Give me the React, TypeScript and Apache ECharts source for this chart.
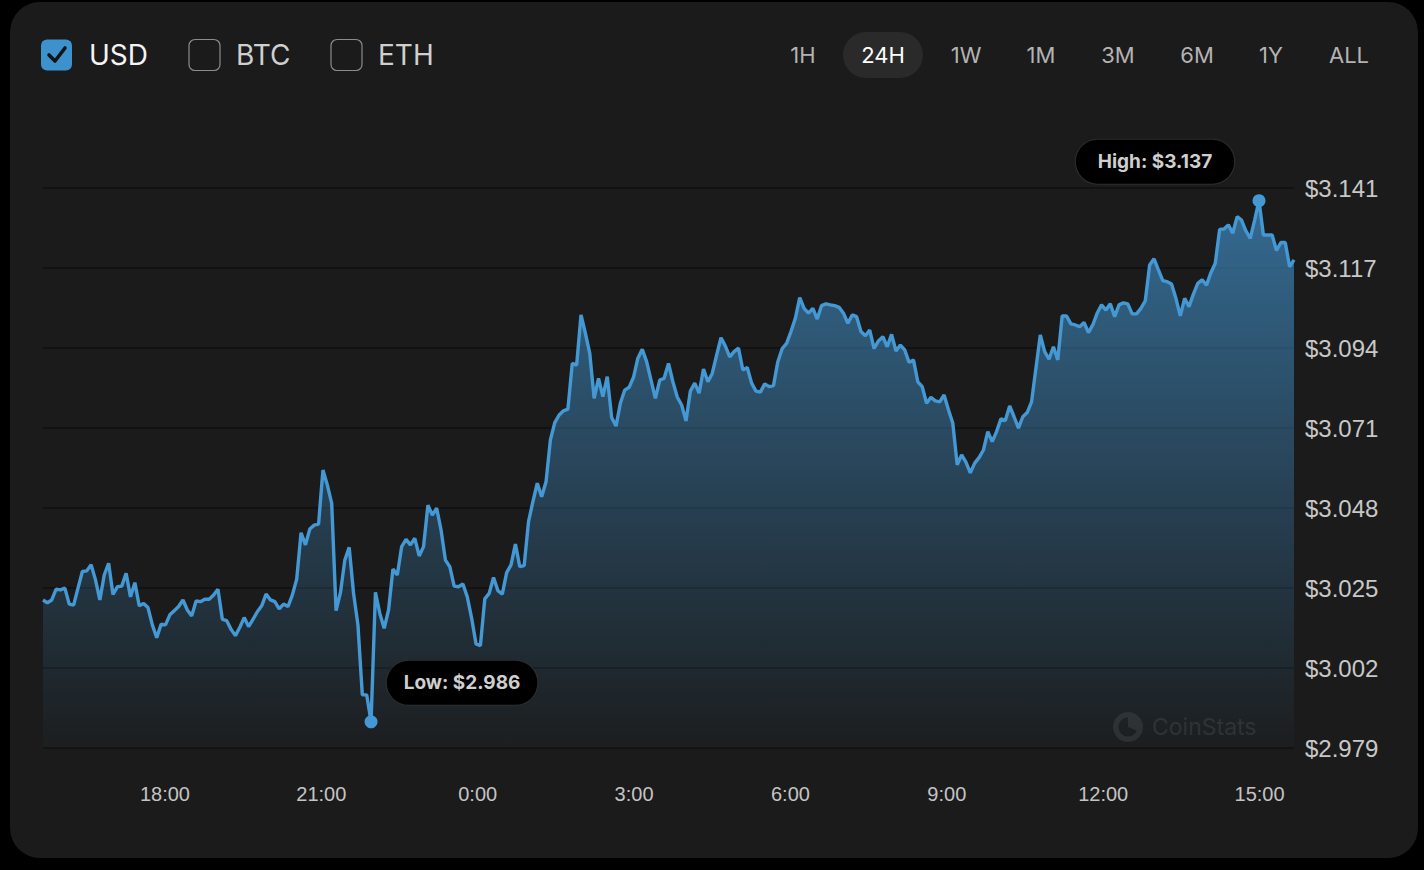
import React, { useEffect, useRef } from "react";
import * as echarts from "echarts";

// ---- data (5-minute USD prices over the last 24h) ----
const pricesEvening = [
  3.0216, 3.0208, 3.0216, 3.0247, 3.0245, 3.0250, 3.0204, 3.0201, 3.0250, 3.0298,
  3.0300, 3.0318, 3.0274, 3.0216, 3.0288, 3.0322, 3.0232, 3.0254, 3.0256, 3.0293,
  3.0225, 3.0266, 3.0199, 3.0206, 3.0194, 3.0144, 3.0107, 3.0146, 3.0144, 3.0173,
  3.0185, 3.0197, 3.0216, 3.0187, 3.0170, 3.0213, 3.0211, 3.0218, 3.0218, 3.0230,
  3.0247, 3.0160, 3.0156, 3.0131, 3.0113, 3.0137, 3.0165, 3.0139, 3.0160, 3.0182,
  3.0199, 3.0233, 3.0216, 3.0211, 3.0190, 3.0204, 3.0197, 3.0230, 3.0276, 3.0410,
  3.0375, 3.0421, 3.0432, 3.0435, 3.0591, 3.0548, 3.0495, 3.0185, 3.0237, 3.0331,
  3.0368, 3.0235, 3.0144, 2.9942, 2.9942, 2.9864,
];
const pricesNight = [
  3.0238, 3.0177, 3.0134, 3.0187, 3.0305, 3.0288, 3.0370, 3.0391, 3.0375, 3.0394,
  3.0343, 3.0370, 3.0490, 3.0461, 3.0481, 3.0418, 3.0331, 3.0312, 3.0256, 3.0254,
  3.0262, 3.0225, 3.0163, 3.0089, 3.0084, 3.0219, 3.0235, 3.0281, 3.0243, 3.0233,
  3.0295, 3.0317, 3.0377, 3.0312, 3.0315, 3.0442, 3.0500, 3.0553, 3.0514, 3.0557,
  3.0678, 3.0728, 3.0750, 3.0762, 3.0767, 3.0899, 3.0894, 3.1039, 3.0986, 3.0928,
  3.0798, 3.0856, 3.0803, 3.0861, 3.0743, 3.0718, 3.0784, 3.0822, 3.0830, 3.0859,
  3.0914, 3.0940, 3.0904, 3.0851, 3.0798, 3.0851, 3.0856, 3.0899, 3.0846, 3.0802,
  3.0779, 3.0733,
];
const pricesMorning = [
  3.0819, 3.0842, 3.0813, 3.0883, 3.0846, 3.0870, 3.0923, 3.0973, 3.0949, 3.0918,
  3.0933, 3.0943, 3.0880, 3.0887, 3.0842, 3.0819, 3.0816, 3.0840, 3.0832, 3.0835,
  3.0904, 3.0942, 3.0957, 3.0991, 3.1029, 3.1089, 3.1058, 3.1044, 3.1058, 3.1027,
  3.1066, 3.1071, 3.1068, 3.1066, 3.1061, 3.1044, 3.1015, 3.1039, 3.1034, 3.0991,
  3.0979, 3.0995, 3.0942, 3.0964, 3.0976, 3.0947, 3.0983, 3.0935, 3.0952, 3.0938,
  3.0902, 3.0909, 3.0846, 3.0832, 3.0784, 3.0801, 3.0791, 3.0788, 3.0808, 3.0765,
  3.0726, 3.0606, 3.0635, 3.0614, 3.0583, 3.0611, 3.0627, 3.0649, 3.0702, 3.0673,
];
const pricesAfternoon = [
  3.0702, 3.0739, 3.0734, 3.0776, 3.0745, 3.0712, 3.0745, 3.0757, 3.0788, 3.0885,
  3.0981, 3.0933, 3.0911, 3.0947, 3.0909, 3.1036, 3.1036, 3.1013, 3.1010, 3.1005,
  3.1017, 3.0988, 3.1010, 3.1044, 3.1068, 3.1053, 3.1071, 3.1034, 3.1068, 3.1074,
  3.1071, 3.1042, 3.1042, 3.1058, 3.1080, 3.1183, 3.1201, 3.1169, 3.1138, 3.1135,
  3.1128, 3.1087, 3.1036, 3.1087, 3.1063, 3.1099, 3.1130, 3.1140, 3.1125, 3.1161,
  3.1188, 3.1286, 3.1287, 3.1299, 3.1275, 3.1323, 3.1313, 3.1282, 3.1260, 3.1313,
  3.1369, 3.1270, 3.1270, 3.1270, 3.1225, 3.1248, 3.1248, 3.1178, 3.1198,
];

const startHour = 15.661; // 15:40 of the previous day
const spanHours = 24;
const xTickHours = [18, 21, 24, 27, 30, 33, 36, 39];
const xTickLabels = ["18:00", "21:00", "0:00", "3:00", "6:00", "9:00", "12:00", "15:00"];
const yMin = 2.97885;
const yMax = 3.14055;
const yTickLabels = ["$2.979", "$3.002", "$3.025", "$3.048", "$3.071", "$3.094", "$3.117", "$3.141"];
const currencies = ["USD", "BTC", "ETH"];
const activeCurrency = "USD";
const ranges = ["1H", "24H", "1W", "1M", "3M", "6M", "1Y", "ALL"];
const activeRange = "24H";

const FONT = "Inter, 'Liberation Sans', sans-serif";
const NUM_FONT = "'Liberation Sans', Arial, sans-serif";
const BLUE = "#4499d4";

export default function App() {
  const ref = useRef<HTMLDivElement>(null);

  useEffect(() => {
    if (!ref.current) return;
    const chart = echarts.init(ref.current, undefined, { renderer: "svg" });

    const prices = [...pricesEvening, ...pricesNight, ...pricesMorning, ...pricesAfternoon];
    const n = prices.length;
    const data = prices.map((p, i) => [startHour + (i * spanHours) / (n - 1), p]);
    let hi = 0;
    let lo = 0;
    prices.forEach((p, i) => {
      if (p > prices[hi]) hi = i;
      if (p < prices[lo]) lo = i;
    });
    const yStep = (yMax - yMin) / (yTickLabels.length - 1);
    const yTickValues = yTickLabels.map((_, i) => yMin + i * yStep);

    // header graphics
    const header: any[] = [];
    const boxX = [41, 189, 331];
    const labelX = [89, 236, 378];
    currencies.forEach((c, i) => {
      const active = c === activeCurrency;
      header.push({
        type: "rect",
        shape: { x: boxX[i], y: 39.5, width: 31, height: 31, r: 6 },
        style: active
          ? { fill: "#3d92cd" }
          : { fill: "none", stroke: "#8c8c8c", lineWidth: 1.2 },
      });
      if (active) {
        header.push({
          type: "polyline",
          shape: { points: [[boxX[i] + 8, 55], [boxX[i] + 14, 61], [boxX[i] + 24, 48]] },
          style: { stroke: "#141414", lineWidth: 3.6, fill: "none", lineCap: "round", lineJoin: "round" },
        });
      }
      header.push({
        type: "text",
        x: labelX[i],
        y: 55,
        style: {
          text: c,
          fontSize: 28,
          fontFamily: FONT,
          fill: active ? "#f4f4f4" : "#cfcfcf",
          verticalAlign: "middle",
          align: "left",
        },
      });
    });
    const rangeX = [803, 883, 966, 1041, 1118, 1197, 1271, 1349];
    ranges.forEach((r, i) => {
      const active = r === activeRange;
      if (active) {
        header.push({
          type: "rect",
          shape: { x: rangeX[i] - 40, y: 32, width: 80, height: 46, r: 23 },
          style: { fill: "#2a2a2a" },
        });
      }
      header.push({
        type: "text",
        x: rangeX[i],
        y: 55,
        style: {
          text: r,
          fontSize: 22,
          fontFamily: FONT,
          fill: active ? "#ffffff" : "#b3b3b3",
          align: "center",
          verticalAlign: "middle",
        },
      });
    });
    // watermark
    header.push({
      type: "ring",
      z: -1,
      shape: { cx: 1128, cy: 727, r: 15, r0: 9.5 },
      style: { fill: "#2d2d2d" },
    });
    header.push({
      type: "sector",
      z: -1,
      shape: { cx: 1128, cy: 727, r: 12, r0: 0, startAngle: -Math.PI / 2, endAngle: Math.PI / 8 },
      style: { fill: "#2d2d2d" },
    });
    header.push({
      type: "text",
      z: -1,
      x: 1152,
      y: 727,
      style: {
        text: "CoinStats",
        fontSize: 23,
        fontFamily: FONT,
        fill: "#2e2e2e",
        verticalAlign: "middle",
      },
    });

    const pillLabel = (text: string, offset: number[], padH: number) => ({
      show: true,
      position: "inside",
      offset,
      formatter: text,
      backgroundColor: "#000000",
      borderColor: "#2e2e2e",
      borderWidth: 1,
      borderRadius: 22,
      padding: [12, padH, 12, padH],
      lineHeight: 20,
      color: "#cfcfcf",
      fontSize: 19,
      fontWeight: "bold",
      fontFamily: FONT,
    });

    chart.setOption({
      animation: false,
      backgroundColor: "transparent",
      textStyle: { fontFamily: FONT },
      grid: { left: 43, right: 130, top: 188, bottom: 122, containLabel: false },
      xAxis: {
        type: "value",
        min: startHour,
        max: startHour + spanHours,
        axisLine: { show: false },
        axisTick: { show: false, customValues: xTickHours },
        splitLine: { show: false },
        axisLabel: {
          customValues: xTickHours,
          margin: 36,
          color: "#c4c4c4",
          fontSize: 20,
          fontFamily: NUM_FONT,
          formatter: (v: number) => {
            const idx = xTickHours.findIndex((h) => Math.abs(h - v) < 0.01);
            return idx >= 0 ? xTickLabels[idx] : "";
          },
        },
      },
      yAxis: {
        type: "value",
        position: "right",
        min: yMin,
        max: yMax,
        axisLine: { show: false },
        axisTick: { show: false, customValues: yTickValues },
        splitLine: { show: true, lineStyle: { color: "#111111", width: 1.5 } },
        axisLabel: {
          customValues: yTickValues,
          margin: 11,
          color: "#c8c8c8",
          fontSize: 24,
          fontFamily: NUM_FONT,
          formatter: (v: number) => yTickLabels[Math.round((v - yMin) / yStep)] ?? "",
        },
      },
      graphic: { elements: header },
      series: [
        {
          type: "line",
          data,
          showSymbol: false,
          symbol: "none",
          lineStyle: { color: BLUE, width: 3.4 },
          areaStyle: {
            color: new echarts.graphic.LinearGradient(0, 0, 0, 1, [
              { offset: 0, color: "rgba(66,150,210,0.92)" },
              { offset: 1, color: "rgba(66,150,210,0.03)" },
            ]),
          },
          z: 3,
          markPoint: {
            animation: false,
            data: [
              {
                coord: data[hi],
                symbol: "circle",
                symbolSize: 13,
                itemStyle: { color: BLUE },
                label: pillLabel(`High: $${prices[hi].toFixed(3)}`, [-104, -39], 22),
              },
              {
                coord: data[lo],
                symbol: "circle",
                symbolSize: 13,
                itemStyle: { color: BLUE },
                label: pillLabel(`Low: $${prices[lo].toFixed(3)}`, [91, -39], 17),
              },
            ],
          },
        },
      ],
    });

    return () => chart.dispose();
  }, []);

  return (
    <div style={{ position: "fixed", left: 0, top: 0, width: 1424, height: 870, background: "#000" }}>
      <div
        style={{
          position: "absolute",
          left: 10,
          top: 2,
          width: 1408,
          height: 856,
          borderRadius: 30,
          background: "#1b1b1b",
        }}
      />
      <div ref={ref} style={{ position: "absolute", left: 0, top: 0, width: 1424, height: 870 }} />
    </div>
  );
}
